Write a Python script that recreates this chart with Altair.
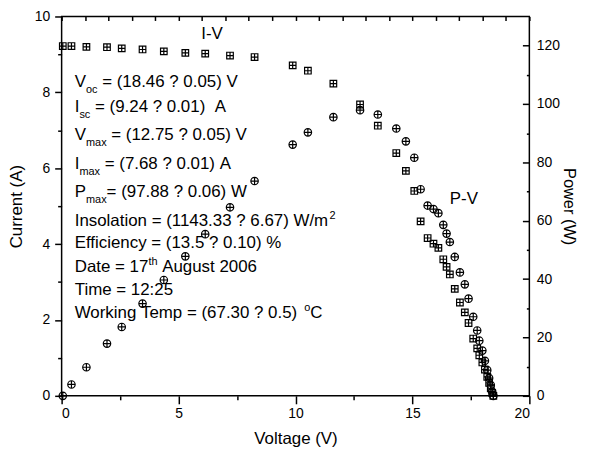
import altair as alt
import pandas as pd

# ---- data ----
voltage = [0.05, 0.42, 1.06, 1.94, 2.57, 3.46, 4.37, 5.29, 6.14, 7.20,
           8.25, 9.88, 10.53, 11.62, 12.76, 13.52, 14.31, 14.72, 15.08, 15.35,
           15.65, 15.90, 16.11, 16.32, 16.46, 16.60, 16.81, 17.03, 17.24, 17.40,
           17.60, 17.77, 17.86, 17.99, 18.10, 18.20, 18.28, 18.35, 18.41, 18.46]
current = [9.22, 9.22, 9.20, 9.19, 9.16, 9.13, 9.08, 9.04, 9.02, 8.97,
           8.93, 8.71, 8.57, 8.23, 7.68, 7.12, 6.40, 5.93, 5.40, 4.60,
           4.16, 4.01, 3.90, 3.60, 3.40, 3.20, 2.82, 2.46, 2.20, 1.92,
           1.51, 1.25, 1.07, 0.88, 0.69, 0.50, 0.34, 0.20, 0.08, 0.00]
power = [0.0, 3.9, 9.8, 17.9, 23.6, 31.6, 39.7, 47.8, 55.4, 64.6,
         73.6, 86.1, 90.3, 95.5, 97.9, 96.4, 91.6, 87.2, 81.6, 70.8,
         65.2, 64.0, 62.6, 58.6, 55.6, 52.7, 47.6, 42.3, 38.2, 33.3,
         27.1, 22.4, 18.9, 15.5, 12.0, 8.8, 6.1, 3.7, 1.5, 0.0]

x_ticks = [0, 5, 10, 15, 20]
x_minor = [2.5, 7.5, 12.5, 17.5]
top_ticks = list(range(0, 21))
i_ticks = [0, 2, 4, 6, 8, 10]
i_minor = [1, 3, 5, 7, 9]
p_ticks = [0, 20, 40, 60, 80, 100, 120]
p_minor = [10, 30, 50, 70, 90, 110]

ann_lines = [
    [("V", "n"), ("oc", "sub"), (" = (18.46 ? 0.05) V", "n")],
    [("I", "n"), ("sc", "sub"), (" = (9.24 ? 0.01)  A", "n")],
    [("V", "n"), ("max", "sub"), (" = (12.75 ? 0.05) V", "n")],
    [("I", "n"), ("max", "sub"), (" = (7.68 ? 0.01) A", "n")],
    [("P", "n"), ("max", "sub"), ("= (97.88 ? 0.06) W", "n")],
    [("Insolation = (1143.33 ? 6.67) W/m", "n"), ("2", "sup")],
    [("Efficiency = (13.5 ? 0.10) %", "n")],
    [("Date = 17", "n"), ("th", "sup"), (" August 2006", "n")],
    [("Time = 12:25", "n")],
    [("Working Temp = (67.30 ? 0.5) ", "n"), ("o", "sup"), ("C", "n")],
]
ann_base = [8.15, 7.49, 6.74, 5.98, 5.25, 4.47, 3.89, 3.26, 2.66, 2.06]
ann_x0 = 0.56
curve_labels = ["I-V", "P-V"]
curve_label_x = [5.97, 16.6]
curve_label_y = [9.40, 5.06]

# ---- layout ----
W, H = 471, 382
FONT = "Liberation Sans"
FS, FS_SMALL = 17, 11
NB = "\u00a0"
AW = {' ': 278, NB: 278, '.': 278, '(': 333, ')': 333, '?': 556, '=': 584,
      '%': 889, ':': 278, '/': 278, '-': 333, 'A': 667, 'C': 722, 'D': 722,
      'E': 667, 'I': 278, 'P': 667, 'T': 611, 'V': 667, 'W': 944, 'a': 556,
      'c': 500, 'd': 556, 'e': 556, 'f': 278, 'g': 556, 'h': 556, 'i': 222,
      'k': 500, 'l': 222, 'm': 833, 'n': 556, 'o': 556, 'p': 556, 'r': 333,
      's': 500, 't': 278, 'u': 556, 'x': 500, 'y': 500}


def text_width(s, fs):
    return sum(AW.get(c, 556) for c in s) * fs / 1000.0


rows = []
for line, yb in zip(ann_lines, ann_base):
    px = 0.0
    for seg, kind in line:
        fs = FS if kind == "n" else FS_SMALL
        body = seg.lstrip(" ")
        lead = len(seg) - len(body)
        start = px + text_width(" " * lead, fs)
        rows.append({"x": ann_x0 + start * 20.0 / W, "y": yb,
                     "t": body.rstrip(" ").replace(" ", NB), "k": kind})
        px += text_width(seg, fs)
for t, x, y in zip(curve_labels, curve_label_x, curve_label_y):
    rows.append({"x": x, "y": y, "t": t, "k": "n"})
ann = pd.DataFrame(rows)

df = pd.DataFrame({"V": voltage, "I": current, "P": power})

SQ = "M-1,-1L1,-1L1,1L-1,1Z M-1,0L1,0 M0,-1L0,1"
CI = "M-1,0A1,1,0,1,1,1,0A1,1,0,1,1,-1,0Z M-1,0L1,0 M0,-1L0,1"

xs = alt.Scale(domain=[0, 20], nice=False, zero=False)
ys = alt.Scale(domain=[0, 10], nice=False)
ps = alt.Scale(domain=[0, 130], nice=False)

common = dict(grid=False, domain=False, labelFont=FONT, titleFont=FONT,
              labelColor="black", titleColor="black", tickColor="black",
              tickWidth=1.5, labelFontSize=14, titleFontSize=17,
              titleFontWeight="normal")

base = alt.Chart(df)

iv = base.mark_point(shape=SQ, size=44, filled=False, color="black",
                     strokeWidth=1.2, opacity=1).encode(
    x=alt.X("V:Q", scale=xs, axis=alt.Axis(
        orient="bottom", values=x_ticks, tickSize=8, labelPadding=3,
        title="Voltage (V)", titlePadding=10, **common)),
    y=alt.Y("I:Q", scale=ys, axis=alt.Axis(
        orient="left", values=i_ticks, tickSize=7, labelPadding=5,
        title="Current (A)", titlePadding=9, **common)),
)

pv = base.mark_point(shape=CI, size=56, filled=False, color="black",
                     strokeWidth=1.2, opacity=1).encode(
    x=alt.X("V:Q", scale=xs, axis=alt.Axis(
        orient="bottom", values=x_minor, tickSize=4, labels=False,
        title=None, **common)),
    y=alt.Y("P:Q", scale=ps, axis=alt.Axis(
        orient="right", values=p_ticks, ticks=False, labelPadding=7,
        title="Power (W)", titlePadding=1,
        **{**common, "titleFontSize": 16.5})),
)

iv_minor = base.mark_point(opacity=0).encode(
    x=alt.X("V:Q", scale=xs, axis=alt.Axis(
        orient="bottom", offset=-H, values=top_ticks, tickSize=4,
        labels=False, title=None, **common)),
    y=alt.Y("I:Q", scale=ys, axis=alt.Axis(
        orient="left", values=i_minor, tickSize=4, labels=False,
        title=None, **common)),
)

pv_major_in = base.mark_point(opacity=0).encode(
    x=alt.X("V:Q", scale=xs, axis=None),
    y=alt.Y("P:Q", scale=ps, axis=alt.Axis(
        orient="left", offset=-W, values=p_ticks, tickSize=7,
        labels=False, title=None, **common)),
)

pv_minor_in = base.mark_point(opacity=0).encode(
    x=alt.X("V:Q", scale=xs, axis=None),
    y=alt.Y("P:Q", scale=ps, axis=alt.Axis(
        orient="left", offset=-W, values=p_minor, tickSize=3,
        labels=False, title=None, **common)),
)

tbase = alt.Chart(ann)
enc = dict(x=alt.X("x:Q", scale=xs, axis=None),
           y=alt.Y("y:Q", scale=ys, axis=None),
           text="t:N")
t_main = tbase.transform_filter(alt.datum.k == "n").mark_text(
    align="left", baseline="alphabetic", font=FONT, fontSize=FS,
    color="black").encode(**enc)
t_sub = tbase.transform_filter(alt.datum.k == "sub").mark_text(
    align="left", baseline="alphabetic", font=FONT, fontSize=FS_SMALL,
    dy=6, color="black").encode(**enc)
t_sup = tbase.transform_filter(alt.datum.k == "sup").mark_text(
    align="left", baseline="alphabetic", font=FONT, fontSize=FS_SMALL,
    dy=-7, color="black").encode(**enc)

chart = alt.layer(
    iv, pv, iv_minor, pv_major_in, pv_minor_in, t_main, t_sub, t_sup
).resolve_scale(x="independent", y="independent").properties(
    width=W, height=H, autosize="none",
    padding={"left": 54, "top": 7, "right": 52, "bottom": 52},
    background="white",
).configure_view(stroke="black", strokeWidth=1.5)

chart.save("out.html", embed_options={"renderer": "svg", "actions": False})
